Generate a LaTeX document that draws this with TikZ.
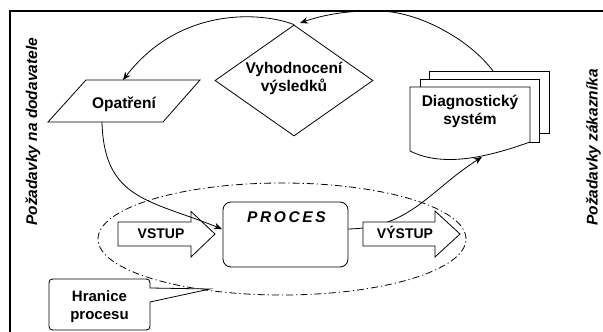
\documentclass[tikz,border=0pt]{standalone}
\usepackage{fontspec}
\setmainfont{Liberation Sans}
\usetikzlibrary{arrows.meta,shapes.geometric}
\begin{document}
\begin{tikzpicture}[x=1pt,y=-1pt,
  lbl/.style={font=\fontsize{15.5}{18}\selectfont\bfseries, align=center, inner sep=0pt},
  arrlbl/.style={font=\fontsize{14}{17}\selectfont\bfseries, inner sep=0pt},
  side/.style={font=\fontsize{15.5}{18}\selectfont\bfseries\itshape, inner sep=0pt, rotate=90, anchor=base west},
  shp/.style={draw, line width=0.8pt, fill=white},
  conn/.style={-{Stealth[length=8pt,width=6.5pt,inset=2.5pt]}, line width=0.8pt},
  bound/.style={line width=0.8pt, dash pattern=on 7pt off 3pt on 1.2pt off 3pt},
  frame/.style={line width=2.2pt}
]
\useasboundingbox (0,0) rectangle (603,332);
\fill[white] (0,0) rectangle (603,332);
% frame
\draw[frame] (9.7,332) -- (9.7,10.7) -- (603,10.7);
% side labels
\node[side] (leftlbl) at (37,226) {Požadavky na dodavatele};
\node[side] (rightlbl) at (597.5,226) {Požadavky zákazníka};
% process boundary
\draw[bound] (282,239) ellipse [x radius=184pt, y radius=56pt];
% evaluation diamond
\node[shp, diamond, minimum width=158pt, minimum height=111pt, inner sep=0pt] (eval) at (294,80.5) {};
\node[lbl] (evalt) at (294,78.5) {Vyhodnocení\\výsledků};
% measures parallelogram
\draw[shp] (86,80) -- (200,80) -- (163,122) -- (48,122) -- cycle;
\node[lbl] (opa) at (124,104.3) {Opatření};
% diagnostic system (multi-document)
\draw[shp] (429,71) rectangle (549,133);
\draw[shp] (420,79) rectangle (539,142);
\draw[shp] (410,87) -- (530,87) -- (530,142) .. controls (480,160) and (440,166) .. (410,151) -- cycle;
\node[lbl] (diag) at (470,111.5) {Diagnostický\\systém};
% process box
\node[shp, rounded corners=8pt, minimum width=125pt, minimum height=65pt, inner sep=0pt] (proc) at (285.5,234.5) {};
\node[lbl, font=\fontsize{15.5}{18}\selectfont\bfseries\itshape\addfontfeature{LetterSpace=17}] (proct) at (286.5,217.5) {PROCES};
% connector endpoints
\coordinate (opaTop) at (123,80);
\coordinate (opaBot) at (102,122);
\coordinate (procIn) at (222,229);
\coordinate (procOut) at (348,229);
\coordinate (diagBot) at (482,157);
\coordinate (diagTop) at (493,71);
\coordinate (evalIn) at (300,23);
% input arrow
\draw[shp] (118,222) -- (191,222) -- (191,211.5) -- (215,234) -- (191,257) -- (191,246) -- (118,246) -- cycle;
\node[arrlbl] (vstup) at (161,234) {VSTUP};
% connectors
\draw[conn] (procOut) .. controls (410,228) and (430,190) .. (diagBot);
% output arrow
\draw[shp] (363,222) -- (435,222) -- (435,211) -- (460,234) -- (435,257) -- (435,246) -- (363,246) -- cycle;
\node[arrlbl] (vystup) at (405,232) {VÝSTUP};
\draw[conn] (eval.north) .. controls (262,12) and (180,6) .. (opaTop);
\draw[conn] (diagTop) .. controls (470,40) and (420,12) .. (380,11) .. controls (345,10) and (320,16) .. (evalIn);
\draw[conn] (opaBot) .. controls (104,200) and (150,200) .. (procIn);
% callout
\draw[shp] (150,288) -- (210,289) -- (150,302) -- (150,322) .. controls (150,330) .. (142,330) -- (57,330) .. controls (49,330) .. (49,322) -- (49,287) .. controls (49,279) .. (57,279) -- (142,279) .. controls (150,279) .. (150,287) -- cycle;
\node[lbl, font=\fontsize{15}{18}\selectfont\bfseries] (hr) at (99.5,307) {Hranice\\procesu};
\end{tikzpicture}
\end{document}
